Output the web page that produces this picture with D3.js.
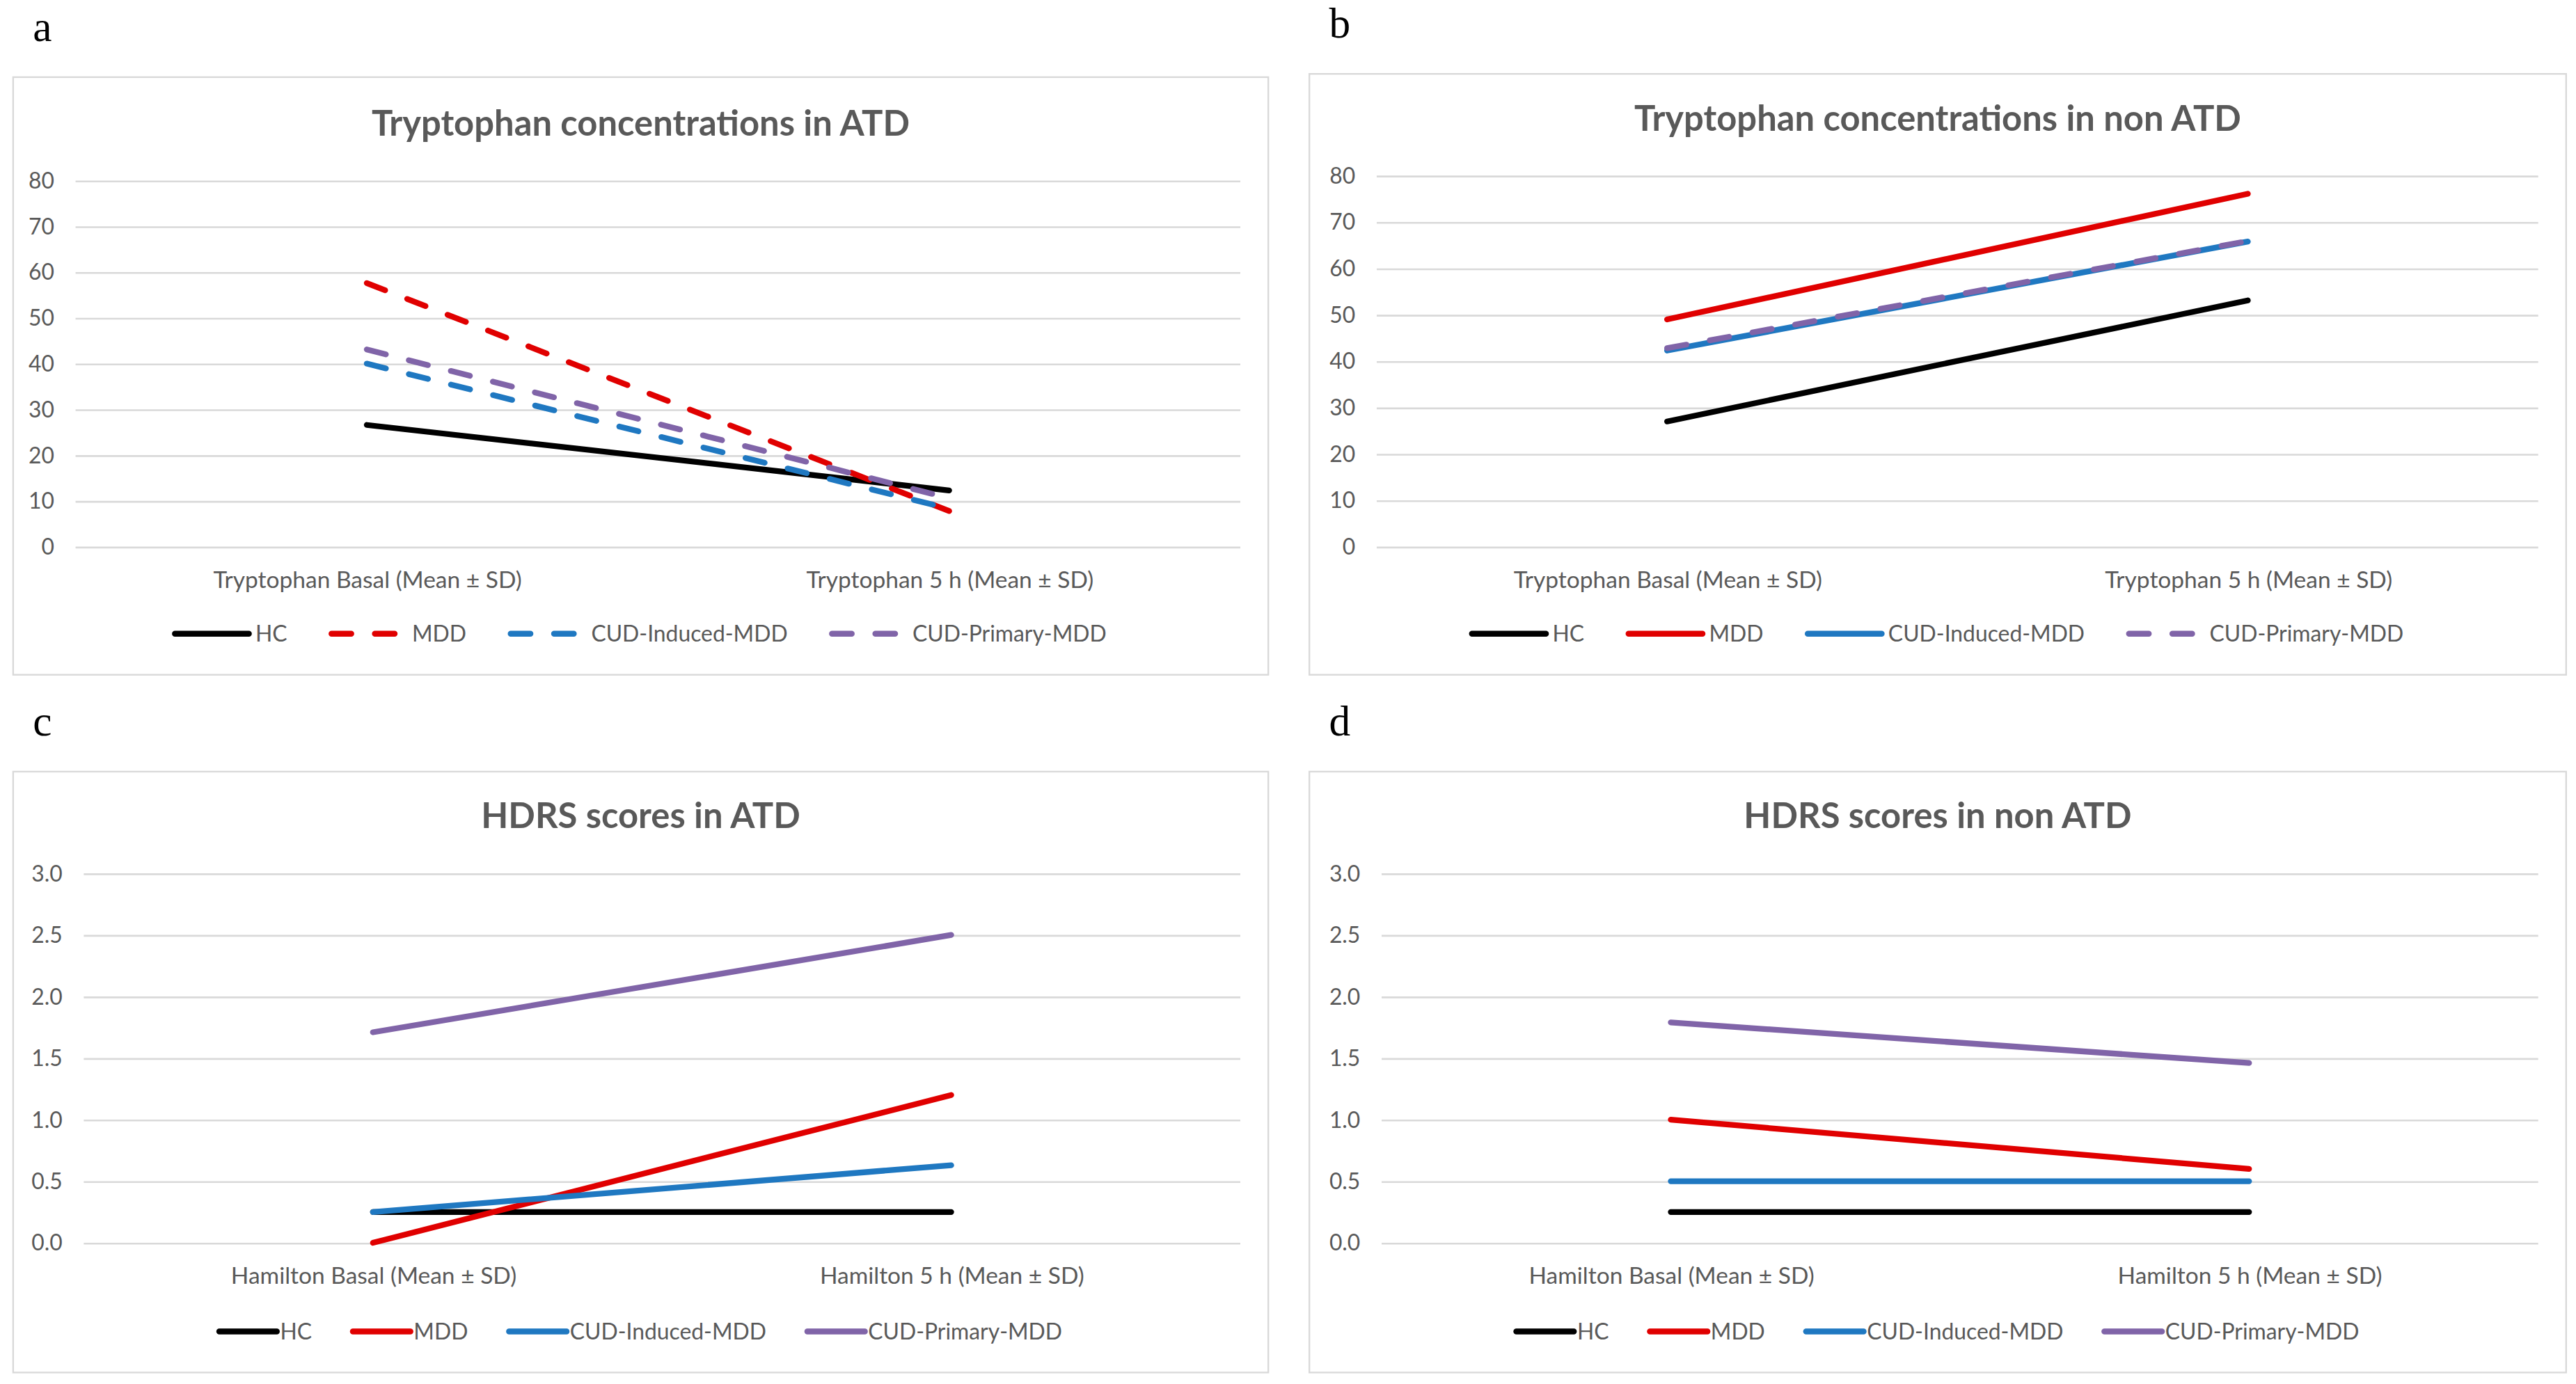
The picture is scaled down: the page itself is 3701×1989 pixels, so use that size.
<!doctype html>
<html lang="en">
<head>
  <meta charset="utf-8">
  <title>Tryptophan and HDRS</title>
  <script src="https://cdn.jsdelivr.net/npm/d3@7"></script>
  <style>
    body { margin: 0; background: #fff; }
    svg text { font-family: Lato, "Open Sans", sans-serif; fill: #595959; }
    .letter { font-family: "Liberation Serif", "DejaVu Serif", serif; fill: #000; }
  </style>
</head>
<body>
<svg id="chart" width="3701" height="1989" viewBox="0 0 1568 843" preserveAspectRatio="none"></svg>

<script>
// categories and series
var trpCategories = ["Tryptophan Basal (Mean ± SD)", "Tryptophan 5 h (Mean ± SD)"];
var hamCategories = ["Hamilton Basal (Mean ± SD)", "Hamilton 5 h (Mean ± SD)"];
var groups = ["HC", "MDD", "CUD-Induced-MDD", "CUD-Primary-MDD"];
var colors = ["#000000", "#e00000", "#1f78c1", "#8064a8"];

var trpTicks = [0, 10, 20, 30, 40, 50, 60, 70, 80];
var hamTicks = [0, 0.5, 1.0, 1.5, 2.0, 2.5, 3.0];

var trpATD_HC = [26.6, 12.3];
var trpATD_MDD = [57.6, 7.8];
var trpATD_CUDInduced = [40.0, 8.3];
var trpATD_CUDPrimary = [43.1, 10.6];

var trpNonATD_HC = [27.0, 53.1];
var trpNonATD_MDD = [49.0, 76.1];
var trpNonATD_CUDInduced = [42.3, 65.8];
var trpNonATD_CUDPrimary = [42.8, 65.9];

var hdrsATD_HC = [0.25, 0.25];
var hdrsATD_MDD = [0.0, 1.2];
var hdrsATD_CUDInduced = [0.25, 0.63];
var hdrsATD_CUDPrimary = [1.71, 2.5];

var hdrsNonATD_HC = [0.25, 0.25];
var hdrsNonATD_MDD = [1.0, 0.6];
var hdrsNonATD_CUDInduced = [0.5, 0.5];
var hdrsNonATD_CUDPrimary = [1.79, 1.46];

var panels = [
  { letter: "a", title: "Tryptophan concentrations in ATD", cats: trpCategories, ticks: trpTicks, fmt: d3.format("d"),
    series: [trpATD_HC, trpATD_MDD, trpATD_CUDInduced, trpATD_CUDPrimary], dashed: [false, true, true, true],
    fx: 8, fy: 47, fw: 764, fh: 364, gx0: 46, gx1: 755, gy0: 333, gy1: 110, titleY: 75, catY: 353, legY: 386,
    legLine: 45, legGap: 4, legSpace: 27 },
  { letter: "b", title: "Tryptophan concentrations in non ATD", cats: trpCategories, ticks: trpTicks, fmt: d3.format("d"),
    series: [trpNonATD_HC, trpNonATD_MDD, trpNonATD_CUDInduced, trpNonATD_CUDPrimary], dashed: [false, false, false, true],
    fx: 797, fy: 45, fw: 765, fh: 366, gx0: 838, gx1: 1545, gy0: 333, gy1: 107, titleY: 72, catY: 353, legY: 386,
    legLine: 45, legGap: 4, legSpace: 27 },
  { letter: "c", title: "HDRS scores in ATD", cats: hamCategories, ticks: hamTicks, fmt: d3.format(".1f"),
    series: [hdrsATD_HC, hdrsATD_MDD, hdrsATD_CUDInduced, hdrsATD_CUDPrimary], dashed: [false, false, false, false],
    fx: 8, fy: 470, fw: 764, fh: 366, gx0: 51, gx1: 755, gy0: 757, gy1: 532, titleY: 497, catY: 777, legY: 811,
    legLine: 35, legGap: 2, legSpace: 25 },
  { letter: "d", title: "HDRS scores in non ATD", cats: hamCategories, ticks: hamTicks, fmt: d3.format(".1f"),
    series: [hdrsNonATD_HC, hdrsNonATD_MDD, hdrsNonATD_CUDInduced, hdrsNonATD_CUDPrimary], dashed: [false, false, false, false],
    fx: 797, fy: 470, fw: 765, fh: 366, gx0: 841, gx1: 1545, gy0: 757, gy1: 532, titleY: 497, catY: 777, legY: 811,
    legLine: 35, legGap: 2, legSpace: 25 }
];

var svg = d3.select("#chart");
var lineW = 3.5;
var dash = "12,14.4";

panels.forEach(function(p) {
  var g = svg.append("g");

  g.append("text").attr("class", "letter")
    .attr("x", p.fx + 12).attr("y", p.fy - 22)
    .attr("font-size", 26).text(p.letter);

  g.append("rect")
    .attr("x", p.fx).attr("y", p.fy).attr("width", p.fw).attr("height", p.fh)
    .attr("fill", "#fff").attr("stroke", "#d9d9d9").attr("stroke-width", 1);

  g.append("text")
    .attr("x", p.fx + p.fw / 2).attr("y", p.titleY).attr("dy", "0.35em")
    .attr("text-anchor", "middle").attr("font-size", 21.5).attr("font-weight", "bold")
    .text(p.title);

  var x = d3.scalePoint().domain(p.cats).range([p.gx0, p.gx1]).padding(0.5);
  var y = d3.scaleLinear().domain([0, d3.max(p.ticks)]).range([p.gy0, p.gy1]);

  // gridlines + y labels via axisLeft
  var yAxis = g.append("g")
    .attr("transform", "translate(" + p.gx0 + ",0)")
    .call(d3.axisLeft(y).tickValues(p.ticks).tickFormat(p.fmt)
      .tickSize(-(p.gx1 - p.gx0)).tickPadding(13));
  yAxis.select(".domain").remove();
  yAxis.selectAll("line").attr("stroke", "#d9d9d9").attr("stroke-width", 1.1);
  yAxis.selectAll("text").attr("font-size", 13.5).attr("fill", "#595959")
    .style("font-family", "Lato, 'Open Sans', sans-serif");

  var xAxis = g.append("g")
    .attr("transform", "translate(0," + p.catY + ")")
    .call(d3.axisBottom(x).tickSize(0).tickPadding(0));
  xAxis.select(".domain").remove();
  xAxis.selectAll("text").attr("font-size", 14.2).attr("fill", "#595959")
    .attr("dy", "0.35em").attr("y", 0)
    .style("font-family", "Lato, 'Open Sans', sans-serif");

  var line = d3.line()
    .x(function(d, i) { return x(p.cats[i]); })
    .y(function(d) { return y(d); });

  p.series.forEach(function(s, k) {
    g.append("path").datum(s)
      .attr("d", line)
      .attr("fill", "none")
      .attr("stroke", colors[k])
      .attr("stroke-width", lineW)
      .attr("stroke-linecap", "round")
      .attr("stroke-dasharray", p.dashed[k] ? dash : null);
  });

  // legend, centred under the plot
  var leg = g.append("g");
  var items = groups.map(function(name, k) {
    var it = leg.append("g");
    it.append("line")
      .attr("x1", 0).attr("x2", p.legLine).attr("y1", 0).attr("y2", 0)
      .attr("stroke", colors[k]).attr("stroke-width", 3.6)
      .attr("stroke-linecap", "round")
      .attr("stroke-dasharray", p.dashed[k] ? dash : null);
    var t = it.append("text")
      .attr("x", p.legLine + p.legGap).attr("y", 0).attr("dy", "0.35em")
      .attr("font-size", 13.5).text(name);
    return { g: it, w: p.legLine + p.legGap + t.node().getComputedTextLength() };
  });
  var total = d3.sum(items, function(d) { return d.w; }) + p.legSpace * (items.length - 1);
  var cx = p.fx + p.fw / 2 - total / 2;
  items.forEach(function(it) {
    it.g.attr("transform", "translate(" + cx + "," + p.legY + ")");
    cx += it.w + p.legSpace;
  });
});
</script>
</body>
</html>
